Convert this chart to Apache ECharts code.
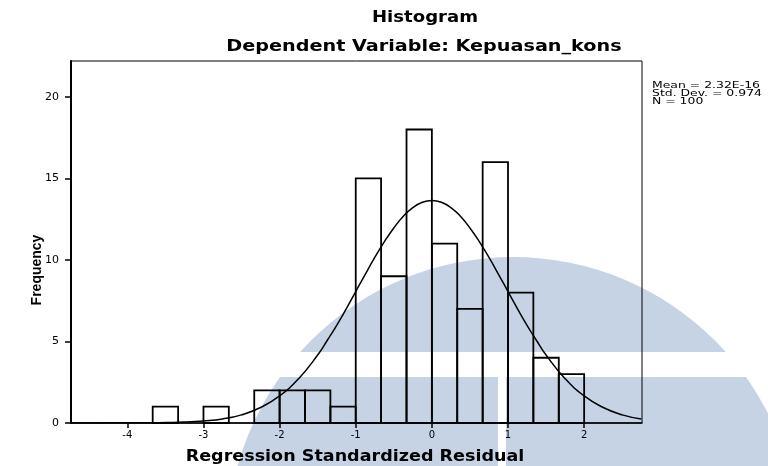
<!DOCTYPE html>
<html>
<head>
<meta charset="utf-8">
<script src="https://cdn.jsdelivr.net/npm/echarts@6/dist/echarts.min.js"></script>
<style>html,body{margin:0;padding:0;background:#fff;}#c{width:768px;height:466px;}</style>
</head>
<body>
<div id="c"></div>
<script>
// Histogram bins (Regression Standardized Residual), width 1/3
var binLower = [-3.667, -3.000, -2.333, -2.000, -1.667, -1.333, -1.000, -0.667, -0.333, 0.000, 0.333, 0.667, 1.000, 1.333, 1.667];
var binUpper = [-3.333, -2.667, -2.000, -1.667, -1.333, -1.000, -0.667, -0.333, 0.000, 0.333, 0.667, 1.000, 1.333, 1.667, 2.000];
var binCount = [1, 1, 2, 2, 2, 1, 15, 9, 18, 11, 7, 16, 8, 4, 3];

// Normal curve
var curveX = [-4.75, -4.5, -4.25, -4, -3.75, -3.5, -3.25, -3, -2.75, -2.5, -2.25, -2, -1.75, -1.5, -1.375, -1.25, -1.125, -1, -0.875, -0.75, -0.625, -0.5, -0.375, -0.25, -0.125, 0, 0.125, 0.25, 0.375, 0.5, 0.625, 0.75, 0.875, 1, 1.125, 1.25, 1.375, 1.5, 1.75, 2, 2.25, 2.5, 2.75];
var curveY = [0, 0, 0.01, 0.01, 0.01, 0.03, 0.06, 0.13, 0.25, 0.5, 0.95, 1.66, 2.72, 4.17, 5.06, 5.99, 7.0, 8.06, 9.12, 10.15, 11.11, 11.96, 12.68, 13.21, 13.54, 13.65, 13.54, 13.21, 12.68, 11.96, 11.11, 10.15, 9.12, 8.06, 7.0, 5.99, 5.06, 4.17, 2.72, 1.66, 0.95, 0.5, 0.25];

var xTicks = [-4, -3, -2, -1, 0, 1, 2];
var yTicks = [0, 5, 10, 15, 20];

var titleMain = 'Histogram';
var titleSub = 'Dependent Variable: Kepuasan_kons';
var xName = 'Regression Standardized Residual';
var yName = 'Frequency';
var statLines = ['Mean = 2.32E-16', 'Std. Dev. = 0.974', 'N = 100'];

var histData = binLower.map(function (l, i) { return [l, binUpper[i], binCount[i]]; });
var curveData = curveX.map(function (x, i) { return [x, curveY[i]]; });

var chart = echarts.init(document.getElementById('c'), null, {renderer: 'canvas'});
var wm = '#c6d3e5';
var boldTxt = {fontFamily: 'DejaVu Sans', fontWeight: 'bold', fontSize: 16, fill: '#000', align: 'center', verticalAlign: 'middle'};
chart.setOption({
  backgroundColor: '#fff',
  animation: false,
  grid: {left: 71, right: 126, top: 61, bottom: 43, show: true, borderColor: '#000', borderWidth: 1, backgroundColor: 'transparent'},
  xAxis: {
    type: 'value', min: -4.74, max: 2.76,
    axisLine: {onZero: false, lineStyle: {color: '#000', width: 1.5}},
    axisTick: {customValues: xTicks, length: 5, lineStyle: {color: '#000', width: 1.5}},
    axisLabel: {customValues: xTicks, margin: 7, fontFamily: 'DejaVu Sans', fontSize: 10, color: '#000'},
    splitLine: {show: false}
  },
  yAxis: {
    type: 'value', min: 0, max: 22.2,
    axisLine: {show: true, onZero: false, lineStyle: {color: '#000', width: 2}},
    axisTick: {show: true, customValues: yTicks, length: 6, lineStyle: {color: '#000', width: 1.5}},
    axisLabel: {customValues: yTicks, margin: 12, fontFamily: 'DejaVu Sans', fontSize: 11, color: '#000'},
    splitLine: {show: false}
  },
  graphic: [
    {type: 'circle', z: -10, silent: true, shape: {cx: 513, cy: 543, r: 286}, style: {fill: wm}},
    {type: 'rect', z: -9, silent: true, shape: {x: 0, y: 352, width: 768, height: 25}, style: {fill: '#fff'}},
    {type: 'rect', z: -9, silent: true, shape: {x: 498, y: 352, width: 8, height: 114}, style: {fill: '#fff'}},
    {type: 'text', x: 425, y: 18, scaleX: 1.13, silent: true, style: Object.assign({text: titleMain}, boldTxt)},
    {type: 'text', x: 424, y: 47, scaleX: 1.2, silent: true, style: Object.assign({text: titleSub}, boldTxt)},
    {type: 'text', x: 355, y: 457, scaleX: 1.17, silent: true, style: Object.assign({}, boldTxt, {text: xName, fontSize: 15})},
    {type: 'text', x: 37, y: 270, rotation: Math.PI / 2, silent: true,
     style: {text: yName, fontFamily: 'Liberation Sans', fontWeight: 'bold', fontSize: 14, fill: '#000', align: 'center', verticalAlign: 'middle'}},
    {type: 'text', x: 652, y: 82, scaleX: 1.38, silent: true,
     style: {text: statLines.join('\n'), fontFamily: 'DejaVu Sans', fontSize: 9, lineHeight: 8, fill: '#000'}}
  ],
  series: [
    {
      type: 'custom', z: 3,
      data: histData,
      encode: {x: [0, 1], y: 2},
      renderItem: function (params, api) {
        var p0 = api.coord([api.value(0), api.value(2)]);
        var p1 = api.coord([api.value(1), 0]);
        return {type: 'rect', shape: {x: p0[0], y: p0[1], width: p1[0] - p0[0], height: p1[1] - p0[1]},
                style: {fill: 'none', stroke: '#000', lineWidth: 1.8}};
      }
    },
    {
      type: 'line', z: 4, data: curveData, smooth: true, showSymbol: false, symbol: 'none',
      lineStyle: {color: '#000', width: 1.5}
    }
  ]
});
</script>
</body>
</html>
